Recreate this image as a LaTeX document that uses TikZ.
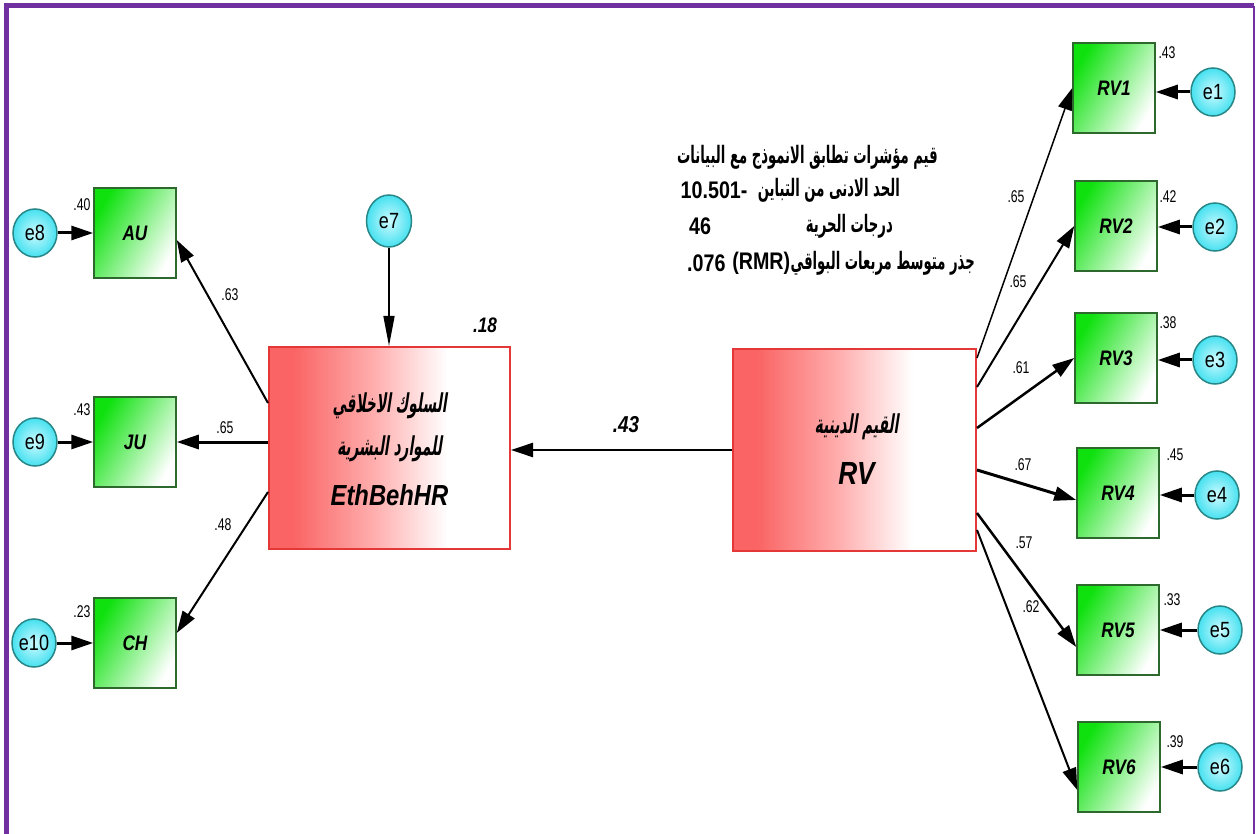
\documentclass[tikz,border=0pt]{standalone}
\usepackage{fontspec}
\setmainfont{Liberation Sans}
\newfontfamily\labfont[FakeStretch=0.82]{Liberation Sans}
\newfontfamily\numfont[FakeStretch=0.72]{Liberation Sans}
\newfontfamily\arabicfont[Script=Arabic,FakeStretch=0.55]{DejaVu Sans}
\newfontfamily\arabicbox[Script=Arabic,FakeSlant=0.15,FakeStretch=0.53]{DejaVu Sans}
\TeXXeTstate=1
\usetikzlibrary{arrows.meta,calc,shapes.geometric}
\definecolor{framepurple}{RGB}{112,48,160}
\definecolor{boxred}{RGB}{228,55,55}
\definecolor{fillred}{RGB}{250,100,100}
\definecolor{fillpink}{RGB}{255,175,175}
\definecolor{gboxborder}{RGB}{45,105,45}
\definecolor{gfill}{RGB}{15,225,15}
\definecolor{ecirc}{RGB}{40,135,135}
\definecolor{ecyan}{RGB}{70,225,240}
\definecolor{ecyanlight}{RGB}{205,250,255}
\pgfdeclarehorizontalshading{redfade}{100bp}{color(0bp)=(fillred); color(30bp)=(fillred); color(47bp)=(fillpink); color(62bp)=(white); color(100bp)=(white)}
\begin{document}
\begin{tikzpicture}[x=1pt,y=-1pt,
  ind/.style={draw=gboxborder, line width=1.5pt, minimum width=82pt, minimum height=90pt, inner sep=0pt,
    left color=gfill, right color=white, shading angle=60,
    font=\labfont\bfseries\itshape\fontsize{21}{21}\selectfont},
  err/.style={ellipse, draw=ecirc, line width=1.5pt, minimum width=44pt, minimum height=48pt, inner sep=0pt,
    inner color=ecyanlight, outer color=ecyan, font=\labfont\fontsize{22}{22}\selectfont},
  lat/.style={draw=boxred, line width=2pt, shade, shading=redfade, inner sep=0pt},
  arr/.style={-{Triangle[length=22pt,width=14pt]}, line width=2pt},
  lbl/.style={font=\numfont\fontsize{17}{17}\selectfont, inner sep=0pt},
  blbl/.style={font=\labfont\bfseries\itshape\fontsize{21}{21}\selectfont, inner sep=0pt},
  ar/.style={font=\arabicfont\bfseries\fontsize{24}{24}\selectfont, inner sep=0pt},
  arnum/.style={font=\labfont\bfseries\fontsize{24}{24}\selectfont, inner sep=0pt},
  artxt/.style={font=\arabicbox\bfseries\fontsize{26}{26}\selectfont, inner sep=0pt},
  latxt/.style={font=\labfont\bfseries\itshape\fontsize{29}{29}\selectfont, inner sep=0pt}]
\useasboundingbox (0,0) rectangle (1259,834);
\fill[white] (0,0) rectangle (1259,834);
% frame
\draw[framepurple, line width=5pt] (6,834) -- (6,6) -- (1254,6);
\draw[framepurple, line width=2.5pt] (1254,6) -- (1254,834);

% latent variables
\node[lat, minimum width=241pt, minimum height=202pt] (Eth) at (389.5,448) {};
\node[artxt] (Etht1) at ($(Eth.center)+(0,-42)$) {\beginR السلوك الاخلاقي\endR};
\node[artxt] (Etht2) at ($(Eth.center)+(0,1)$) {\beginR للموارد البشرية\endR};
\node[latxt] (Etht3) at ($(Eth.center)+(0,47)$) {EthBehHR};
\node[lat, minimum width=243pt, minimum height=202pt] (RV) at (854.5,450) {};
\node[artxt] (RVt1) at ($(RV.center)+(2,-23)$) {\beginR القيم الدينية\endR};
\node[latxt, font=\labfont\bfseries\itshape\fontsize{32}{32}\selectfont] (RVt2) at ($(RV.center)+(2,23)$) {RV};

% left indicators
\node[ind] (AU) at (135,233) {AU};
\node[ind] (JU) at (135,442) {JU};
\node[ind] (CH) at (135,643) {CH};
\node[err] (e8) at (35,233) {e8};
\node[err] (e9) at (35,442) {e9};
\node[err] (e10) at (34,643) {e10};
\node[err, minimum width=45pt, minimum height=52pt] (e7) at (389,221) {e7};

% right indicators
\node[ind] (RV1) at (1114,88) {RV1};
\node[ind] (RV2) at (1116,226) {RV2};
\node[ind] (RV3) at (1116,358) {RV3};
\node[ind] (RV4) at (1118,493) {RV4};
\node[ind] (RV5) at (1118,630) {RV5};
\node[ind] (RV6) at (1119,767) {RV6};
\node[err] (e1) at (1213,92) {e1};
\node[err] (e2) at (1215,227) {e2};
\node[err] (e3) at (1215,360) {e3};
\node[err] (e4) at (1217,495) {e4};
\node[err] (e5) at (1220,630) {e5};
\node[err] (e6) at (1220,767) {e6};

% arrows: errors
\draw[arr, line width=3pt] (e8) -- (AU);
\draw[arr, line width=3pt] (e9) -- (JU);
\draw[arr, line width=3pt] (e10) -- (CH);
\draw[-{Triangle[length=30pt,width=11pt]}, line width=1.5pt] (e7) -- (e7 |- Eth.north);
\foreach \i in {1,...,6}{
  \draw[arr, line width=3pt] (e\i) -- (RV\i.east |- e\i);
}
% arrows: structural
\draw[arr] ([yshift=45pt]Eth.west) -- ([yshift=-7pt]AU.east);
\draw[arr, line width=3pt] (Eth.west |- JU.east) -- (JU.east);
\draw[arr] ([yshift=-44pt]Eth.west) -- ([yshift=10pt]CH.east);
\draw[arr, line width=2.5pt] (RV.west) -- (RV.west -| Eth.east);
\draw[arr, line width=1.5pt] ([yshift=92pt]RV.east) -- (RV1.west);
\draw[arr, line width=2pt] ([yshift=63pt]RV.east) -- (RV2.west);
\draw[arr, line width=2.5pt] ([yshift=22pt]RV.east) -- (RV3.west);
\draw[arr, line width=3pt] ([yshift=-20pt]RV.east) -- ([yshift=-7pt]RV4.west);
\draw[arr, line width=2.5pt] ([yshift=-63pt]RV.east) -- ([yshift=-17pt]RV5.west);
\draw[arr, line width=2pt] ([yshift=-80pt]RV.east) -- ([yshift=-23pt]RV6.west);

% numeric labels
\node[lbl] (r8) at (82,205) {.40};
\node[lbl] (r9) at (82,410) {.43};
\node[lbl] (r10) at (82,612) {.23};
\node[lbl] (w1) at (230,295) {.63};
\node[lbl] (w2) at (225,428) {.65};
\node[lbl] (w3) at (223,525) {.48};
\node[blbl] (r7) at (485,325) {.18};
\node[blbl, font=\labfont\bfseries\itshape\fontsize{23}{23}\selectfont] (b1) at (626,425) {.43};
\node[lbl] (r1) at (1167,53) {.43};
\node[lbl] (r2) at (1168,197) {.42};
\node[lbl] (r3) at (1168,323) {.38};
\node[lbl] (r4) at (1175,455) {.45};
\node[lbl] (r5) at (1172,600) {.33};
\node[lbl] (r6) at (1175,742) {.39};
\node[lbl] (l1) at (1016,197) {.65};
\node[lbl] (l2) at (1018,282) {.65};
\node[lbl] (l3) at (1021,368) {.61};
\node[lbl] (l4) at (1023,465) {.67};
\node[lbl] (l5) at (1024,543) {.57};
\node[lbl] (l6) at (1031,607) {.62};

% fit indices text
\node[ar, anchor=east] (f1) at (938,157) {\beginR قيم مؤشرات تطابق الانموذج مع البيانات\endR};
\node[ar, anchor=east] (f2) at (900,190) {\beginR الحد الادنى من التباين\endR};
\node[arnum, anchor=east] (f2n) at ([xshift=-10pt]f2.west) {10.501-};
\node[ar, anchor=east] (f3) at (893,226) {\beginR درجات الحرية\endR};
\node[arnum, anchor=west] (f3n) at (689,226) {46};
\node[ar, anchor=east] (f4) at (975,263) {\beginR جذر متوسط مربعات البواقي\endR};
\node[arnum, anchor=east] (f4r) at (f4.west) {(RMR)};
\node[arnum, anchor=west] (f4n) at (687,263) {.076};
\end{tikzpicture}
\end{document}
